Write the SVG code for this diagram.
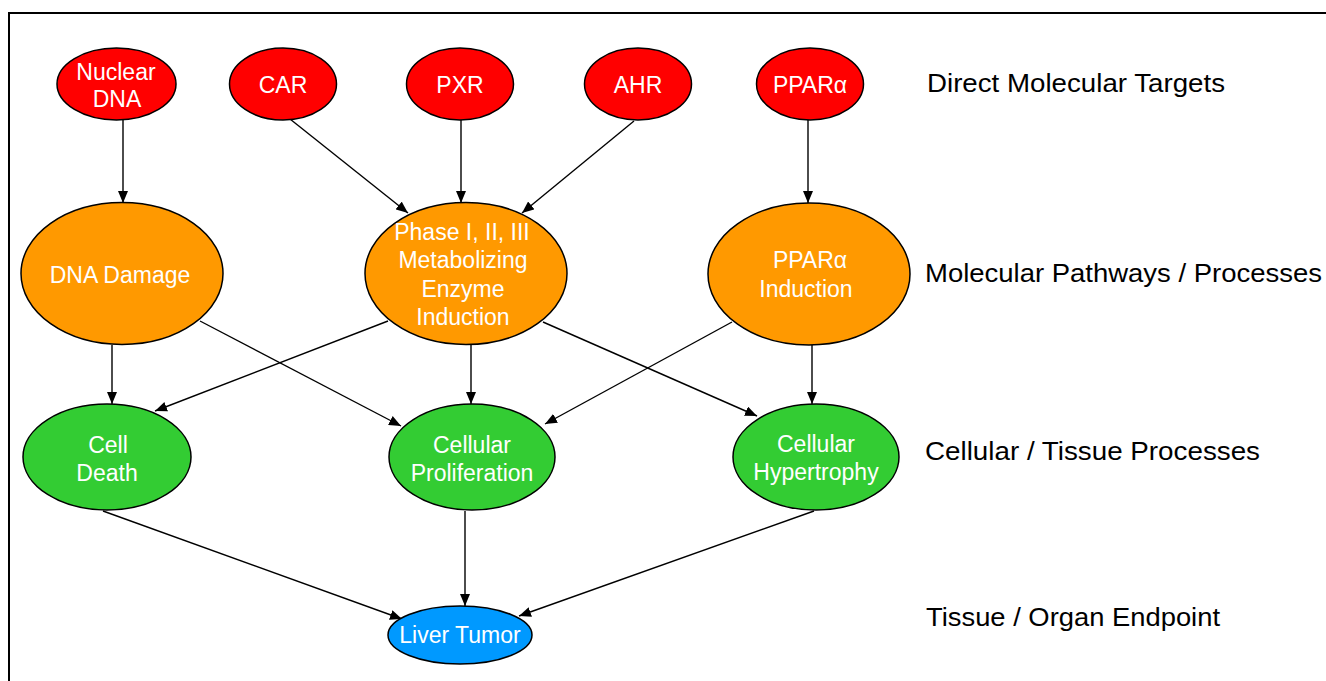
<svg xmlns="http://www.w3.org/2000/svg" width="1326" height="681" viewBox="0 0 1326 681">
<style>
.n{stroke:#000;stroke-width:1.5}
.red{fill:#FF0000}.org{fill:#FF9900}.grn{fill:#33CC33}.blu{fill:#0099FF}
.t{font-family:"Liberation Sans",Arial,sans-serif;font-size:23px;fill:#fff;text-anchor:middle}
.lab{font-family:"Liberation Sans",Arial,sans-serif;font-size:26px;fill:#000}
.c{stroke:#000;stroke-width:1.4;fill:none;marker-end:url(#ah)}
</style>
<defs>
<marker id="ah" markerUnits="userSpaceOnUse" markerWidth="12" markerHeight="10" refX="12" refY="5" orient="auto">
<path d="M0,0 L12,5 L0,10 z" fill="#000"/>
</marker>
</defs>
<rect width="1326" height="681" fill="#fff"/>
<path d="M9,681 V13 H1326" fill="none" stroke="#000" stroke-width="2"/>
<g id="connectors">
<path class="c" d="M123,120 L123,203"/>
<path class="c" d="M290,119 L408,213"/>
<path class="c" d="M461,120 L461,203"/>
<path class="c" d="M634,121 L522,213"/>
<path class="c" d="M808,120 L808,203"/>
<path class="c" d="M112,345 L112,404"/>
<path class="c" d="M388,321 L155,411"/>
<path class="c" d="M200,321 L401,426"/>
<path class="c" d="M471,345 L471,404"/>
<path class="c" d="M543,322 L757,416"/>
<path class="c" d="M732,322 L545,424"/>
<path class="c" d="M812,345 L812,404"/>
<path class="c" d="M103,511 L402,619"/>
<path class="c" d="M465,511 L465,606"/>
<path class="c" d="M814,511 L519,616"/>
</g>
<g id="nuclear-dna"><ellipse class="n red" cx="116.5" cy="84" rx="59.5" ry="36"/><text class="t" x="116" y="80">Nuclear</text><text class="t" x="117" y="107">DNA</text></g>
<g id="car"><ellipse class="n red" cx="283" cy="84" rx="53.5" ry="36"/><text class="t" x="283" y="93">CAR</text></g>
<g id="pxr"><ellipse class="n red" cx="460" cy="84" rx="53.5" ry="36"/><text class="t" x="460" y="93">PXR</text></g>
<g id="ahr"><ellipse class="n red" cx="638" cy="84" rx="53.5" ry="36"/><text class="t" x="638" y="93">AHR</text></g>
<g id="ppara"><ellipse class="n red" cx="810" cy="84" rx="53.5" ry="36"/><text class="t" x="810" y="93">PPARα</text></g>
<g id="dna-damage"><ellipse class="n org" cx="122" cy="273.5" rx="101" ry="71"/><text class="t" x="120" y="283">DNA Damage</text></g>
<g id="phase"><ellipse class="n org" cx="466" cy="273.5" rx="101" ry="71"/><text class="t" x="462" y="240">Phase I, II, III</text><text class="t" x="463" y="268">Metabolizing</text><text class="t" x="463" y="297">Enzyme</text><text class="t" x="463" y="325">Induction</text></g>
<g id="ppara-induction"><ellipse class="n org" cx="809" cy="274" rx="101" ry="71"/><text class="t" x="810" y="268">PPARα</text><text class="t" x="806" y="297">Induction</text></g>
<g id="cell-death"><ellipse class="n grn" cx="107" cy="457" rx="84" ry="53"/><text class="t" x="108" y="453">Cell</text><text class="t" x="107" y="481">Death</text></g>
<g id="cellular-proliferation"><ellipse class="n grn" cx="472" cy="457" rx="83" ry="53"/><text class="t" x="472" y="453">Cellular</text><text class="t" x="472" y="481">Proliferation</text></g>
<g id="cellular-hypertrophy"><ellipse class="n grn" cx="816" cy="457" rx="83" ry="53"/><text class="t" x="816" y="452">Cellular</text><text class="t" x="816" y="480">Hypertrophy</text></g>
<g id="liver-tumor"><ellipse class="n blu" cx="460" cy="635" rx="72" ry="29"/><text class="t" x="460" y="643">Liver Tumor</text></g>
<g id="labels">
<text class="lab" x="927" y="92" textLength="298" lengthAdjust="spacingAndGlyphs">Direct Molecular Targets</text>
<text class="lab" x="925" y="282" textLength="397" lengthAdjust="spacingAndGlyphs">Molecular Pathways / Processes</text>
<text class="lab" x="925" y="460" textLength="335" lengthAdjust="spacingAndGlyphs">Cellular / Tissue Processes</text>
<text class="lab" x="926" y="626" textLength="294" lengthAdjust="spacingAndGlyphs">Tissue / Organ Endpoint</text>
</g>
</svg>
